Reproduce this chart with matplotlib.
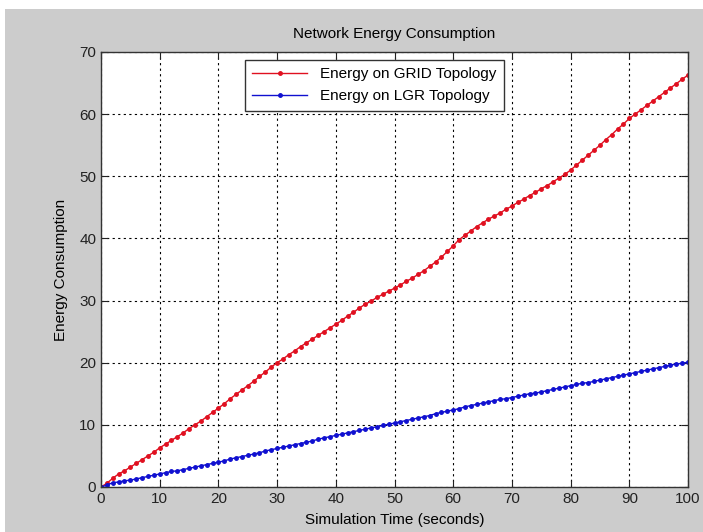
# energy consumption over simulation time, GRID vs LGR topology
import matplotlib
matplotlib.use("Agg")
import matplotlib.pyplot as plt
from matplotlib.patches import Rectangle

plt.rcParams['font.family'] = ['Liberation Sans', 'DejaVu Sans']

# simulation time (seconds)
sim_time = list(range(0, 101))

# energy on GRID topology
grid_energy = [
    0.0, 0.6, 1.4, 2.1, 2.6, 3.2, 3.8, 4.4, 5.0, 5.6,
    6.3, 6.9, 7.5, 8.1, 8.7, 9.4, 10.0, 10.6, 11.3, 12.0,
    12.7, 13.4, 14.2, 14.9, 15.6, 16.3, 17.0, 17.8, 18.5, 19.3,
    20.0, 20.6, 21.3, 21.9, 22.6, 23.2, 23.8, 24.4, 25.0, 25.6,
    26.2, 26.8, 27.5, 28.1, 28.8, 29.4, 29.9, 30.5, 31.0, 31.5,
    32.0, 32.5, 33.1, 33.6, 34.2, 34.8, 35.5, 36.2, 37.0, 37.9,
    38.8, 39.8, 40.5, 41.2, 41.9, 42.5, 43.1, 43.6, 44.1, 44.7,
    45.2, 45.8, 46.3, 46.9, 47.4, 48.0, 48.5, 49.1, 49.7, 50.3,
    51.0, 51.8, 52.6, 53.4, 54.2, 55.0, 55.9, 56.7, 57.6, 58.4,
    59.3, 60.0, 60.7, 61.4, 62.1, 62.8, 63.5, 64.2, 64.9, 65.6,
    66.3]

# energy on LGR topology
lgr_energy = [
    0.0, 0.3, 0.7, 0.8, 1.0, 1.1, 1.3, 1.5, 1.7, 1.9,
    2.1, 2.3, 2.5, 2.6, 2.8, 3.0, 3.2, 3.4, 3.6, 3.8,
    4.0, 4.2, 4.5, 4.7, 4.9, 5.1, 5.3, 5.5, 5.8, 6.0,
    6.2, 6.4, 6.6, 6.8, 7.0, 7.2, 7.4, 7.7, 7.9, 8.1,
    8.3, 8.5, 8.7, 8.9, 9.1, 9.3, 9.5, 9.7, 9.9, 10.1,
    10.3, 10.5, 10.7, 10.9, 11.1, 11.3, 11.5, 11.8, 12.0, 12.2,
    12.4, 12.6, 12.9, 13.1, 13.3, 13.5, 13.7, 13.9, 14.1, 14.2,
    14.4, 14.6, 14.8, 15.0, 15.1, 15.3, 15.5, 15.7, 15.9, 16.1,
    16.3, 16.5, 16.7, 16.8, 17.0, 17.2, 17.4, 17.6, 17.8, 18.0,
    18.2, 18.4, 18.6, 18.8, 19.0, 19.2, 19.4, 19.6, 19.8, 19.9,
    20.1]

W, H = 703, 532
fig = plt.figure(figsize=(W / 100, H / 100), dpi=100, facecolor='white')

# grey figure area (screenshot has a thin white strip at top and left)
fig.patches.append(Rectangle((5 / W, 0), 1 - 5 / W, 1 - 9 / H,
                             transform=fig.transFigure, facecolor='#cccccc',
                             edgecolor='none', zorder=-1))

ax = fig.add_axes([101 / W, (H - 487) / H, 587 / W, 435 / H])
ax.set_facecolor('white')

ax.plot(sim_time, grid_energy, '.-', color='#e01020', lw=1.0, ms=5,
        label='Energy on GRID Topology')
ax.plot(sim_time, lgr_energy, '.-', color='#1010d0', lw=1.0, ms=5,
        label='Energy on LGR Topology')

ax.set_xlim(0, 100)
ax.set_ylim(0, 70)
ax.set_xticks(range(0, 101, 10))
ax.set_yticks(range(0, 71, 10))
ax.grid(True, ls=(0, (2, 3)), color='black', lw=0.8)
ax.tick_params(direction='in', top=True, right=True, length=5,
               labelsize=11, colors='#222222')
for s in ax.spines.values():
    s.set_color('#333333')
    s.set_linewidth(1.0)

ax.set_title('Network Energy Consumption', fontsize=11, pad=10)
ax.set_xlabel('Simulation Time (seconds)', fontsize=11, labelpad=5)
ax.set_ylabel('Energy Consumption', fontsize=11, labelpad=8)

leg = ax.legend(loc='upper left', bbox_to_anchor=(0.245, 0.982), fontsize=11,
                fancybox=False, framealpha=1, edgecolor='#333333',
                borderpad=0.5, labelspacing=0.5, handlelength=3.6,
                borderaxespad=0)
leg.get_frame().set_linewidth(1.0)

fig.savefig('out.png', dpi=100, facecolor=fig.get_facecolor())
